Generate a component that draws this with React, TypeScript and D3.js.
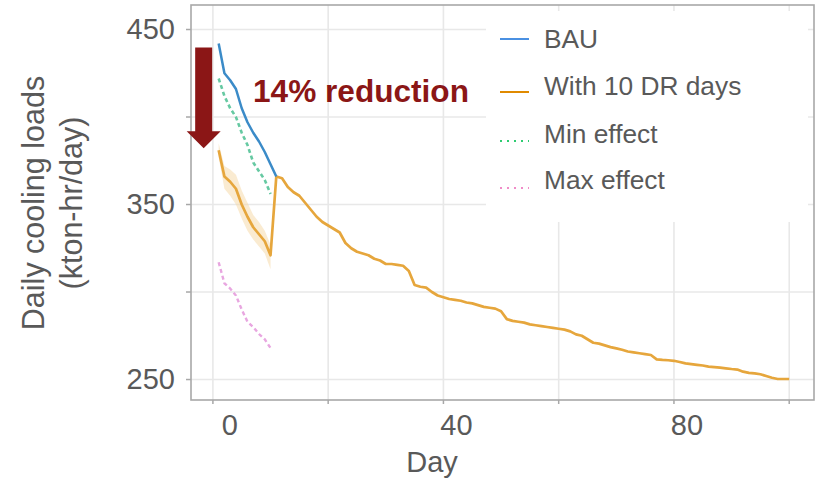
import React, { useEffect, useRef } from 'react';
import { select, scaleLinear, line, area, range } from 'd3';

// days 1..100 on the x axis
const days = range(1, 101);

// business as usual, days 1-11 (afterwards it is the same as the DR run)
const bau = [442, 425, 421, 416, 405, 397, 391, 386, 380, 373, 366];

// with 10 DR days, days 1-100
const drDays = [
  381, 366, 363, 359, 350, 343, 337, 333, 329, 321,
  366, 365, 360, 357, 355, 351, 347, 343, 340, 338,
  336, 334, 328, 325, 323, 322, 321, 319, 318, 316,
  316, 315.5, 315, 312, 304, 303, 302.5, 300, 298, 297,
  296, 295.5, 295, 294, 293.5, 292.5, 291.5, 291, 290.5, 289,
  284.5, 283.5, 283, 282.5, 281.5, 281, 280.5, 280, 279.5, 279,
  278.5, 277.5, 275.8, 275, 273, 271, 270.5, 269.5, 268.5, 267.8,
  267, 266, 265.5, 265, 264.5, 264, 261.5, 261.2, 261, 260.7,
  260, 259.2, 258.8, 258.4, 258, 257.4, 257.1, 256.8, 256.4, 256,
  255.7, 254.5, 253.8, 253.5, 253, 252, 251, 250.3, 250.3, 250.3,
];

// uncertainty band around the DR run, days 1-10
const drLower = [377, 359, 355, 350, 342, 335, 330, 326, 322, 313];
const drUpper = [385, 372, 370, 367, 358, 351, 344, 340, 335, 327];

// min / max effect, days 1-10
const minEffect = [422, 412, 405, 400, 391, 384, 374, 369, 364, 356];
const maxEffect = [317, 305, 302, 298, 290, 283, 280, 276, 273, 268];

const yTicks = [250, 300, 350, 400, 450];
const yLabels = [250, 350, 450];
const xTicks = [0, 20, 40, 60, 80, 100];
const xLabels = [0, 40, 80];

const legendItems = [
  { label: 'BAU', color: '#4a90e2', dash: null },
  { label: 'With 10 DR days', color: '#e08a00', dash: null },
  { label: 'Min effect', color: '#2ecc71', dash: '2,5' },
  { label: 'Max effect', color: '#f08cc8', dash: '2,5' },
];

const FONT = '"Liberation Sans", Arial, sans-serif';
const GREY = '#595959';
const DARK_RED = '#8b1616';

function App() {
  const svgRef = useRef<SVGSVGElement>(null);

  useEffect(() => {
    const svg = select(svgRef.current);
    svg.selectAll('*').remove();

    const left = 191, right = 814, top = 5, bottom = 400;

    const xScale = scaleLinear().domain([-3.8, 104.3]).range([left, right]);
    const yScale = scaleLinear().domain([238.3, 464]).range([bottom, top]);

    // grid
    const grid = svg.append('g');
    grid.selectAll('.hgrid')
      .data(yTicks)
      .join('line')
      .attr('x1', left).attr('x2', right)
      .attr('y1', d => yScale(d)).attr('y2', d => yScale(d))
      .attr('stroke', '#e8e8e8').attr('stroke-width', 1.6);
    grid.selectAll('.vgrid')
      .data(xTicks)
      .join('line')
      .attr('x1', d => xScale(d)).attr('x2', d => xScale(d))
      .attr('y1', top).attr('y2', bottom)
      .attr('stroke', '#e8e8e8').attr('stroke-width', 1.6);

    // ribbon
    const band = area<number>()
      .x((_, i) => xScale(days[i]))
      .y0((_, i) => yScale(drLower[i]))
      .y1((_, i) => yScale(drUpper[i]));
    svg.append('path')
      .attr('d', band(drLower))
      .attr('fill', '#f6d7a3')
      .attr('opacity', 0.5);

    const mkLine = line<number>()
      .x((_, i) => xScale(days[i]))
      .y(v => yScale(v));

    svg.append('path')
      .attr('d', mkLine(maxEffect))
      .attr('fill', 'none')
      .attr('stroke', '#e8a6e0')
      .attr('stroke-width', 2.4)
      .attr('stroke-dasharray', '4,3');

    svg.append('path')
      .attr('d', mkLine(minEffect))
      .attr('fill', 'none')
      .attr('stroke', '#66c9a2')
      .attr('stroke-width', 2.6)
      .attr('stroke-dasharray', '4,3');

    svg.append('path')
      .attr('d', mkLine(drDays))
      .attr('fill', 'none')
      .attr('stroke', '#e6a63c')
      .attr('stroke-width', 2.7)
      .attr('stroke-linejoin', 'round');

    svg.append('path')
      .attr('d', mkLine(bau))
      .attr('fill', 'none')
      .attr('stroke', '#3b8bc8')
      .attr('stroke-width', 2.5)
      .attr('stroke-linejoin', 'round');

    // legend box
    svg.append('rect')
      .attr('x', 486).attr('y', 11)
      .attr('width', 322).attr('height', 211)
      .attr('fill', '#fff');

    const legend = svg.append('g').attr('font-family', FONT);
    const rowY = [39, 86, 134, 180];
    const symOffset = [0, 6, 7, 8];
    legendItems.forEach((item, i) => {
      legend.append('line')
        .attr('x1', 500).attr('x2', 529)
        .attr('y1', rowY[i] + symOffset[i]).attr('y2', rowY[i] + symOffset[i])
        .attr('stroke', item.color)
        .attr('stroke-width', 2)
        .attr('stroke-dasharray', item.dash ?? null);
      legend.append('text')
        .attr('x', 544).attr('y', rowY[i])
        .attr('dy', '0.36em')
        .attr('font-size', 26.3)
        .attr('fill', GREY)
        .text(item.label);
    });

    // panel border
    svg.append('rect')
      .attr('x', left).attr('y', top)
      .attr('width', right - left).attr('height', bottom - top)
      .attr('fill', 'none')
      .attr('stroke', '#a8a8a8')
      .attr('stroke-width', 1.6);

    // ticks
    svg.selectAll('.ytick')
      .data(yTicks)
      .join('line')
      .attr('x1', left - 5).attr('x2', left)
      .attr('y1', d => yScale(d)).attr('y2', d => yScale(d))
      .attr('stroke', '#a8a8a8').attr('stroke-width', 1.5);
    svg.selectAll('.xtick')
      .data(xTicks)
      .join('line')
      .attr('x1', d => xScale(d)).attr('x2', d => xScale(d))
      .attr('y1', bottom).attr('y2', bottom + 4)
      .attr('stroke', '#a8a8a8').attr('stroke-width', 1.5);

    svg.selectAll('.ylabel')
      .data(yLabels)
      .join('text')
      .attr('x', 175)
      .attr('y', d => yScale(d))
      .attr('dy', '0.33em')
      .attr('text-anchor', 'end')
      .attr('font-family', FONT)
      .attr('font-size', 29)
      .attr('fill', GREY)
      .text(d => d);

    svg.selectAll('.xlabel')
      .data(xLabels)
      .join('text')
      .attr('x', d => xScale(d) + (d === 0 ? 17 : 13))
      .attr('y', 435)
      .attr('text-anchor', 'middle')
      .attr('font-family', FONT)
      .attr('font-size', 29)
      .attr('fill', GREY)
      .text(d => d);

    // axis titles
    svg.append('text')
      .attr('x', 432).attr('y', 472)
      .attr('text-anchor', 'middle')
      .attr('font-family', FONT)
      .attr('font-size', 29)
      .attr('fill', GREY)
      .text('Day');

    const yTitle = svg.append('text')
      .attr('transform', 'translate(44,203) rotate(-90)')
      .attr('text-anchor', 'middle')
      .attr('font-family', FONT)
      .attr('font-size', 30.5)
      .attr('fill', GREY);
    yTitle.append('tspan').attr('x', 0).attr('dy', 0).text('Daily cooling loads');
    yTitle.append('tspan').attr('x', 0).attr('dy', 38).text('(kton-hr/day)');

    // annotation arrow from BAU start down to DR start
    const ax = xScale(-1.6);
    const yTop = yScale(bau[0]) + 4;
    const yTip = yScale(drDays[0]) - 2;
    const headH = 17;
    svg.append('path')
      .attr('d', `M${ax - 8.5},${yTop} L${ax + 8.5},${yTop} L${ax + 8.5},${yTip - headH} L${ax + 17},${yTip - headH} L${ax},${yTip} L${ax - 17},${yTip - headH} L${ax - 8.5},${yTip - headH} Z`)
      .attr('fill', DARK_RED);

    svg.append('text')
      .attr('x', 253).attr('y', 102)
      .attr('font-family', FONT)
      .attr('font-weight', 'bold')
      .attr('font-size', 31.6)
      .attr('fill', DARK_RED)
      .text('14% reduction');
  }, []);

  return (
    <svg
      ref={svgRef}
      width={819}
      height={478}
      style={{ position: 'absolute', left: 0, top: 0, background: '#fff' }}
    />
  );
}

export default App;
